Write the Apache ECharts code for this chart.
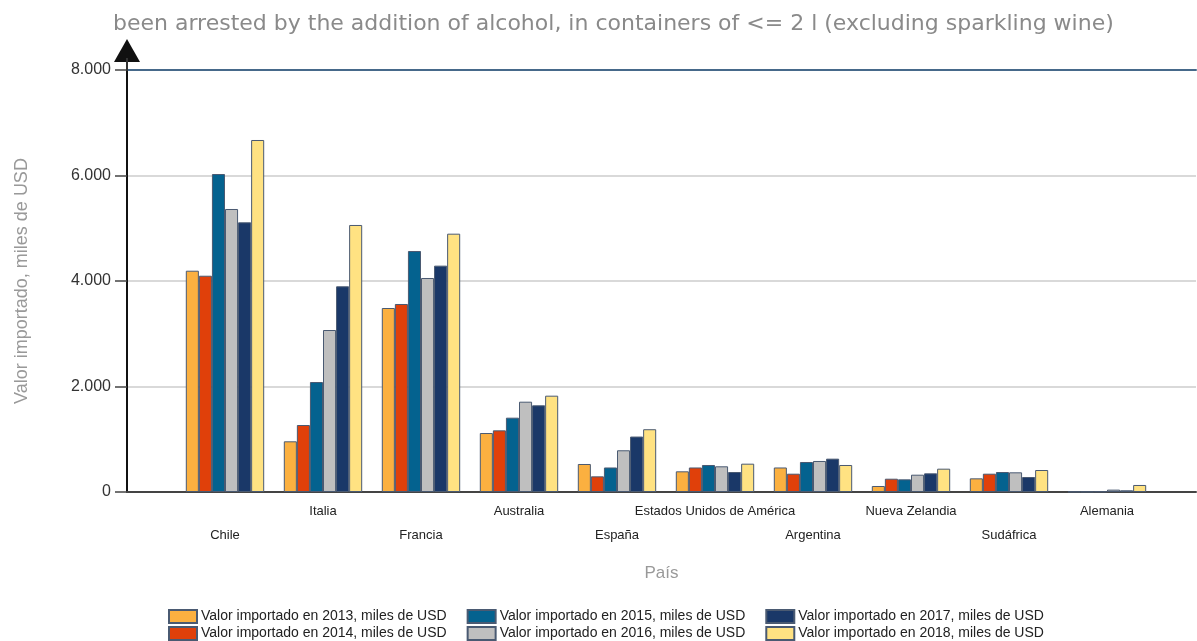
<!DOCTYPE html>
<html>
<head>
<meta charset="utf-8">
<script src="https://cdn.jsdelivr.net/npm/echarts@6/dist/echarts.min.js"></script>
<style>html,body{margin:0;padding:0;background:#fff}#c{width:1197px;height:641px}</style>
</head>
<body>
<div id="c"></div>
<script>
const categories = ['Chile','Italia','Francia','Australia','España','Estados Unidos de América','Argentina','Nueva Zelandia','Sudáfrica','Alemania'];
const seriesNames = ['Valor importado en 2013, miles de USD','Valor importado en 2014, miles de USD','Valor importado en 2015, miles de USD','Valor importado en 2016, miles de USD','Valor importado en 2017, miles de USD','Valor importado en 2018, miles de USD'];
const v2013 = [4195, 961, 3488, 1118, 531, 392, 465, 114, 259, 5];
const v2014 = [4100, 1270, 3564, 1169, 297, 465, 347, 252, 347, 5];
const v2015 = [6028, 2085, 4569, 1409, 465, 512, 569, 240, 379, 10];
const v2016 = [5365, 3071, 4057, 1712, 791, 487, 588, 328, 373, 45];
const v2017 = [5112, 3899, 4291, 1643, 1051, 379, 632, 354, 284, 32];
const v2018 = [6673, 5062, 4897, 1826, 1190, 537, 512, 442, 417, 133];
const yTicks = [0, 2000, 4000, 6000, 8000];
const colors = ['#FBB040','#E0400A','#04628F','#BFBFBF','#1A3868','#FFE282'];
const titleText = 'been arrested by the addition of alcohol, in containers of <= 2 l (excluding sparkling wine)';

const values = [v2013, v2014, v2015, v2016, v2017, v2018];
const chart = echarts.init(document.getElementById('c'), null, {renderer: 'canvas'});
const font = 'Liberation Sans, Arial, sans-serif';

const legendBase = {left: 168, padding: 0, icon: 'rect', itemWidth: 28, itemHeight: 13, itemGap: 20,
  textStyle: {fontFamily: font, fontSize: 14, color: '#222', padding: [0, 0, 0, -1]}};

const option = {
  animation: false,
  title: {
    text: titleText, left: 108, top: 8,
    textStyle: {fontFamily: 'DejaVu Sans, Verdana, sans-serif', fontSize: 22, fontWeight: 'normal', color: '#8a8a8a'}
  },
  legend: [
    Object.assign({}, legendBase, {data: [seriesNames[0], seriesNames[2], seriesNames[4]], top: 609}),
    Object.assign({}, legendBase, {data: [seriesNames[1], seriesNames[3], seriesNames[5]], top: 626})
  ],
  grid: [
    {left: 127, right: 1, top: 70, bottom: 149},
    {left: 176, right: 41, top: 70, bottom: 149}
  ],
  xAxis: [
    {type: 'value', gridIndex: 0, min: 0, max: 1, position: 'bottom', splitLine: {show: false},
     axisLabel: {show: false}, axisTick: {show: false},
     axisLine: {show: true, lineStyle: {color: '#444', width: 2}},
     name: 'País', nameLocation: 'middle', nameGap: 73,
     nameTextStyle: {fontFamily: font, fontSize: 17, color: '#999'}},
    {type: 'value', gridIndex: 0, min: 0, max: 1, position: 'top', splitLine: {show: false},
     axisLabel: {show: false}, axisTick: {show: false},
     axisLine: {show: true, lineStyle: {color: '#46698a', width: 2}}},
    {type: 'category', gridIndex: 1, data: categories,
     axisLine: {show: false}, axisTick: {show: false},
     axisLabel: {interval: 0, margin: 7, fontFamily: font, fontSize: 13, color: '#222', lineHeight: 24, verticalAlign: 'top',
       formatter: (v, i) => (i % 2 === 0 ? '\n' + v : v)}}
  ],
  yAxis: [
    {type: 'value', gridIndex: 0, min: yTicks[0], max: yTicks[yTicks.length - 1], interval: 2000,
     axisLine: {show: true, lineStyle: {color: '#111', width: 2}, symbol: ['none', 'triangle'], symbolSize: [26, 23], symbolOffset: [0, 19.5]},
     axisTick: {show: true, length: 12, lineStyle: {color: '#444', width: 1.5}},
     axisLabel: {fontFamily: font, fontSize: 16, color: '#333', margin: 16,
       formatter: v => v === 0 ? '0' : (v / 1000).toFixed(0) + '.000'},
     splitLine: {show: true, lineStyle: {color: ['#ccc', '#ccc', '#ccc', '#ccc', 'rgba(0,0,0,0)'], width: 1.5}},
     name: 'Valor importado, miles de USD', nameLocation: 'middle', nameGap: 96,
     nameTextStyle: {fontFamily: font, fontSize: 18, color: '#999'}},
    {type: 'value', gridIndex: 1, min: yTicks[0], max: yTicks[yTicks.length - 1], interval: 2000,
     axisLine: {show: false}, axisTick: {show: false}, axisLabel: {show: false}, splitLine: {show: false}}
  ],
  series: values.map((d, i) => ({
    name: seriesNames[i], type: 'bar', xAxisIndex: 2, yAxisIndex: 1, data: d,
    barGap: 0, barCategoryGap: '20%',
    itemStyle: {color: colors[i], borderColor: '#4a5a72', borderWidth: 1}
  })),
  graphic: [
    {type: 'line', shape: {x1: 127, y1: 58, x2: 127, y2: 71}, style: {stroke: '#333', lineWidth: 2}, z: 10}
  ]
};
chart.setOption(option);
</script>
</body>
</html>
